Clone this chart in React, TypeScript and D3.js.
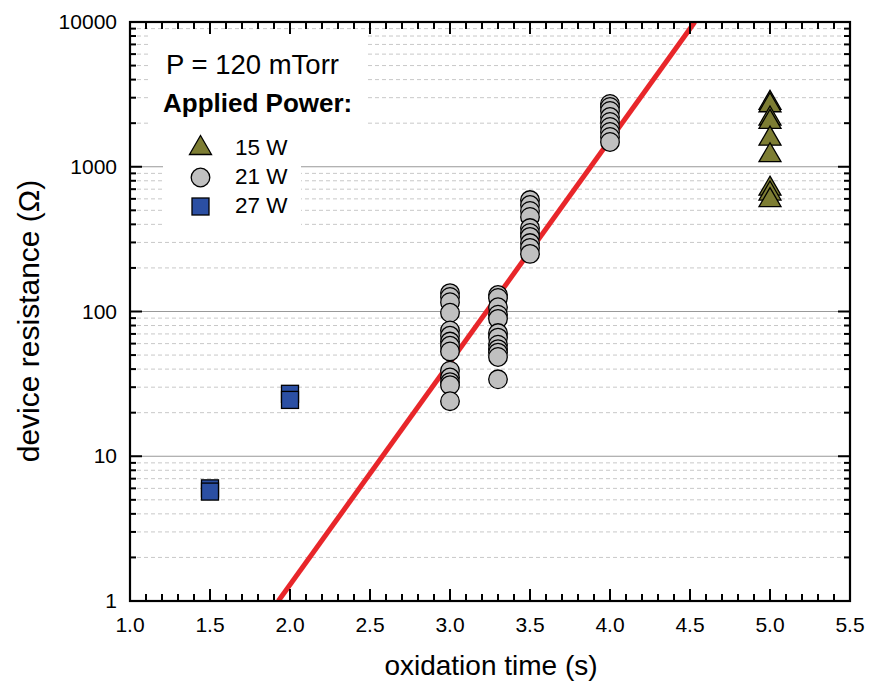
import React from "react";
import * as d3 from "d3";

const W = 870;
const H = 683;

// 15 W (triangles)
const p15X = [5.0, 5.0, 5.0, 5.0, 5.0, 5.0, 5.0, 5.0, 5.0];
const p15Y = [2900, 2790, 2260, 2140, 1640, 1260, 740, 685, 617];

// 21 W (circles)
const p21X = [
  3.0, 3.0, 3.0, 3.0, 3.0, 3.0, 3.0, 3.0, 3.0, 3.0, 3.0, 3.0, 3.0, 3.0,
  3.3, 3.3, 3.3, 3.3, 3.3, 3.3, 3.3, 3.3, 3.3, 3.3, 3.3, 3.3,
  3.5, 3.5, 3.5, 3.5, 3.5, 3.5, 3.5, 3.5, 3.5, 3.5,
  4.0, 4.0, 4.0, 4.0, 4.0, 4.0, 4.0, 4.0, 4.0,
];
const p21Y = [
  134, 126, 116, 98, 74, 68, 62, 58, 53, 39, 35, 32.5, 31, 24,
  130, 124, 107, 95, 89, 71, 66, 59, 55, 52, 48.5, 34,
  589, 544, 495, 450, 377, 349, 328, 297, 275, 250,
  2716, 2590, 2430, 2206, 2040, 1883, 1740, 1606, 1483,
];

// 27 W (squares)
const p27X = [1.5, 1.5, 2.0, 2.0];
const p27Y = [6.0, 5.7, 27, 24.5];

// exponential fit line end points
const fitX = [1.927, 4.53];
const fitY = [1, 10000];

const xTicks = [1.0, 1.5, 2.0, 2.5, 3.0, 3.5, 4.0, 4.5, 5.0, 5.5];
const yTicks = [1, 10, 100, 1000, 10000];

const legendLabels = ["15 W", "21 W", "27 W"];

const M = { left: 130, right: 850, top: 22, bottom: 601 };

const FONT = "Liberation Sans, Arial, sans-serif";

export default function App() {
  const x = d3.scaleLinear().domain([1, 5.5]).range([M.left, M.right]);
  const y = d3.scaleLog().domain([1, 10000]).range([M.bottom, M.top]);

  const minorX: number[] = d3.range(10, 56).map((v) => v / 10).filter((v) => Math.round(v * 10) % 5 !== 0);
  const minorY: number[] = [];
  for (let d = 1; d < 10000; d *= 10) for (let k = 2; k <= 9; k++) minorY.push(d * k);

  const fitLine = d3
    .line<number>()
    .x((_, i) => x(fitX[i]))
    .y((v) => y(v));

  const triPath = (cx: number, cy: number) => {
    const s = 11; // half width
    const h = 19;
    return `M${cx},${cy - h / 2}L${cx + s},${cy + h / 2}L${cx - s},${cy + h / 2}Z`;
  };

  return (
    <svg width={W} height={H} style={{ position: "absolute", left: 0, top: 0, background: "#fff" }} fontFamily={FONT}>
      <defs>
        <clipPath id="plotclip">
          <rect x={M.left} y={M.top} width={M.right - M.left} height={M.bottom - M.top} />
        </clipPath>
      </defs>
      <rect x={0} y={0} width={W} height={H} fill="#fff" />
      {/* minor grid */}
      {minorY.map((v) => (
        <line key={"mg" + v} x1={M.left} x2={M.right} y1={y(v)} y2={y(v)} stroke="#c8c8c8" strokeWidth={1} strokeDasharray="4,3" />
      ))}
      {/* major grid */}
      {yTicks.slice(1, -1).map((v) => (
        <line key={"Mg" + v} x1={M.left} x2={M.right} y1={y(v)} y2={y(v)} stroke="#999" strokeWidth={1.2} />
      ))}

      {/* legend white boxes */}
      <rect x={148} y={31} width={220} height={100} fill="#fff" />
      <rect x={163} y={128} width={138} height={106} fill="#fff" />

      {/* fit line */}
      <g clipPath="url(#plotclip)">
        <path d={fitLine(fitY) || ""} stroke="#e8262a" strokeWidth={5} fill="none" />
      </g>

      {/* squares */}
      {p27X.map((xv, i) => (
        <rect key={"s" + i} x={x(xv) - 8.5} y={y(p27Y[i]) - 8.5} width={17} height={17} fill="#2b4fa3" stroke="#000" strokeWidth={1.3} />
      ))}
      {/* circles */}
      {p21X.map((xv, i) => (
        <circle key={"c" + i} cx={x(xv)} cy={y(p21Y[i])} r={9.3} fill="#c0c0c0" stroke="#000" strokeWidth={1.3} />
      ))}
      {/* triangles */}
      {p15X.map((xv, i) => (
        <path key={"t" + i} d={triPath(x(xv), y(p15Y[i]))} fill="#7d7d33" stroke="#000" strokeWidth={1.3} strokeLinejoin="miter" />
      ))}

      {/* frame */}
      <rect x={M.left} y={M.top} width={M.right - M.left} height={M.bottom - M.top} fill="none" stroke="#000" strokeWidth={2.2} />

      {/* x ticks bottom & top */}
      {xTicks.map((v) => (
        <g key={"xt" + v}>
          <line x1={x(v)} x2={x(v)} y1={M.bottom} y2={M.bottom - 12} stroke="#000" strokeWidth={2} />
          <line x1={x(v)} x2={x(v)} y1={M.top} y2={M.top + 12} stroke="#000" strokeWidth={2} />
          <text x={x(v)} y={632} fontSize={21} textAnchor="middle" fill="#000">
            {v.toFixed(1)}
          </text>
        </g>
      ))}
      {minorX.map((v) => (
        <g key={"xm" + v}>
          <line x1={x(v)} x2={x(v)} y1={M.bottom} y2={M.bottom - 7} stroke="#000" strokeWidth={2} />
          <line x1={x(v)} x2={x(v)} y1={M.top} y2={M.top + 7} stroke="#000" strokeWidth={2} />
        </g>
      ))}
      {/* y ticks left & right */}
      {yTicks.map((v) => (
        <g key={"yt" + v}>
          <line x1={M.left} x2={M.left + 12} y1={y(v)} y2={y(v)} stroke="#000" strokeWidth={2} />
          <line x1={M.right} x2={M.right - 12} y1={y(v)} y2={y(v)} stroke="#000" strokeWidth={2} />
          <text x={117} y={y(v) + 7} fontSize={21} textAnchor="end" fill="#000">
            {String(v)}
          </text>
        </g>
      ))}
      {minorY.map((v) => (
        <g key={"ym" + v}>
          <line x1={M.left} x2={M.left + 6} y1={y(v)} y2={y(v)} stroke="#000" strokeWidth={2} />
          <line x1={M.right} x2={M.right - 6} y1={y(v)} y2={y(v)} stroke="#000" strokeWidth={2} />
        </g>
      ))}

      {/* axis titles */}
      <text x={491} y={675} fontSize={28} textAnchor="middle" fill="#000">
        oxidation time (s)
      </text>
      <text transform={`translate(39,321) rotate(-90)`} fontSize={30} textAnchor="middle" fill="#000">
        device resistance (Ω)
      </text>

      {/* annotations / legend */}
      <text x={166} y={74} fontSize={27.5} fill="#000">
        P = 120 mTorr
      </text>
      <text x={163} y={112} fontSize={26} fontWeight="bold" fill="#000">
        Applied Power:
      </text>
      <path d={triPath(200.5, 145)} fill="#7d7d33" stroke="#000" strokeWidth={1.3} />
      <circle cx={200.5} cy={177.5} r={9.3} fill="#c0c0c0" stroke="#000" strokeWidth={1.3} />
      <rect x={192} y={198} width={17} height={17} fill="#2b4fa3" stroke="#000" strokeWidth={1.3} />
      {legendLabels.map((l, i) => (
        <text key={l} x={235} y={155 + i * 29} fontSize={22.5} fill="#000">
          {l}
        </text>
      ))}
    </svg>
  );
}
